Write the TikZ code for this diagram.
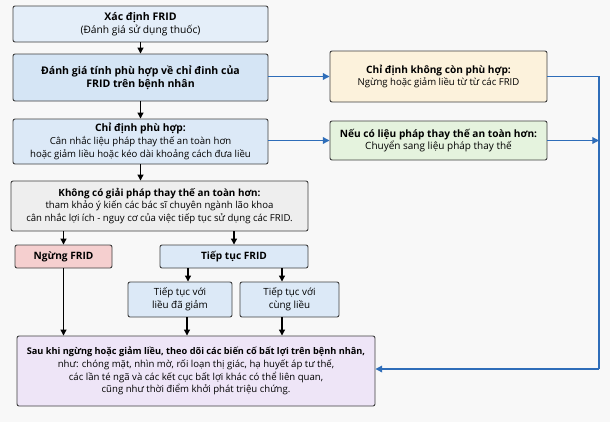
\documentclass[tikz,border=0pt]{standalone}
\usepackage{fontspec}
\setmainfont{Open Sans}
\usetikzlibrary{arrows.meta,calc}
\definecolor{bg}{HTML}{F8F8F8}
\definecolor{bdr}{HTML}{3F3F3F}
\definecolor{cA}{HTML}{E4EEF9}
\definecolor{cB}{HTML}{D5E5F5}
\definecolor{cC}{HTML}{DCE9F7}
\definecolor{cGray}{HTML}{EEEEEE}
\definecolor{cRed}{HTML}{F5CFCF}
\definecolor{cYel}{HTML}{FCF2DC}
\definecolor{cGrn}{HTML}{E5F3DE}
\definecolor{cPur}{HTML}{EEE5F7}
\definecolor{blu}{HTML}{2E6DB9}
\tikzset{
  bx/.style={draw=bdr, line width=0.7pt, rounded corners=1.5pt, align=center, inner sep=0pt, font=\fontsize{7.2}{9.6}\selectfont},
  arr/.style={-{Triangle[length=4.5pt,width=4.5pt]}, line width=0.9pt, black},
  barr/.style={-{Triangle[length=5pt,width=5pt]}, line width=0.9pt, blu},
  bline/.style={line width=0.9pt, blu},
  hd/.style={font=\fontsize{7.6}{9.6}\selectfont\bfseries}
}
\begin{document}
\begin{tikzpicture}[x=0.75pt,y=-0.75pt]
\fill[bg] (0,0) rectangle (610,422);
\useasboundingbox (0,0) rectangle (610,422);
% left column
\node[bx, fill=cA, minimum width=191.25pt, minimum height=27pt] (b1) at (140.5,24)
  {{\fontsize{7.9}{10}\selectfont\bfseries Xác định FRID}\\[0.5pt]{\fontsize{7.7}{10}\selectfont (Đánh giá sử dụng thuốc)}};
\node[bx, fill=cB, minimum width=191.25pt, minimum height=35.25pt] (b2) at (140.5,77.5)
  {{\fontsize{7.9}{12}\selectfont\bfseries Đánh giá tính phù hợp về chỉ đinh của}\\{\fontsize{7.9}{12}\selectfont\bfseries FRID trên bệnh nhân}};
\node[bx, fill=cC, minimum width=191.25pt, minimum height=33.75pt] (b3) at (140.5,141.5)
  {{\fontsize{7.7}{9.6}\selectfont\bfseries Chỉ định phù hợp:}\\Cân nhắc liệu pháp thay thế an toàn hơn\\hoặc giảm liều hoặc kéo dài khoảng cách đưa liều};
\node[bx, fill=cGray, minimum width=222.75pt, minimum height=37.5pt] (b4) at (159.5,206)
  {{\fontsize{7.4}{9.6}\selectfont\bfseries Không có giải pháp thay thế an toàn hơn:}\\tham khảo ý kiến các bác sĩ chuyên ngành lão khoa\\cân nhắc lợi ích - nguy cơ của việc tiếp tục sử dụng các FRID.};
\node[bx, fill=cRed, minimum width=72.75pt, minimum height=17.25pt, hd] (ng) at (63.5,256.5) {Ngừng FRID};
\node[bx, fill=cC, minimum width=111pt, minimum height=17.25pt, hd] (tt) at (234,256.5) {Tiếp tục FRID};
\node[bx, fill=cC, minimum width=78pt, minimum height=26.25pt] (s1) at (180,299.5)
  {{\fontsize{7.4}{12}\selectfont Tiếp tục với}\\{\fontsize{7.4}{12}\selectfont liều đã giảm}};
\node[bx, fill=cC, minimum width=74.25pt, minimum height=26.25pt] (s2) at (289.5,299.5)
  {{\fontsize{7.4}{12}\selectfont Tiếp tục với}\\{\fontsize{7.4}{12}\selectfont cùng liều}};
\node[bx, fill=cPur, minimum width=268.5pt, minimum height=52.5pt] (bot) at (196,371)
  {{\fontsize{6.9}{9.6}\selectfont\bfseries Sau khi ngừng hoặc giảm liều, theo dõi các biến cố bất lợi trên bệnh nhân,}\\như: chóng mặt, nhìn mờ, rối loạn thị giác, hạ huyết áp tư thế,\\các lần té ngã và các kết cục bất lợi khác có thể liên quan,\\cũng như thời điểm khởi phát triệu chứng.};
% right column
\node[bx, fill=cYel, minimum width=162.75pt, minimum height=38.25pt] (ye) at (438.5,76.5)
  {{\fontsize{7.6}{9.6}\selectfont\bfseries Chỉ định không còn phù hợp:}\\Ngừng hoặc giảm liều từ từ các FRID};
\node[bx, fill=cGrn, minimum width=162.75pt, minimum height=29.25pt] (gr) at (438.5,140.5)
  {{\fontsize{7.6}{9.6}\selectfont\bfseries Nếu có liệu pháp thay thế an toàn hơn:}\\{\fontsize{7.5}{9.6}\selectfont Chuyển sang liệu pháp thay thế}};
% coordinates
\coordinate (rtop) at (599,76.5);
\coordinate (rmid) at (599,140.5);
\coordinate (rbot) at (599,369);
\coordinate (xa) at (188,0);
\coordinate (xb) at (282,0);
\coordinate (xc) at (187,0);
% black arrows
\draw[arr] (b1) -- (b2);
\draw[arr] (b2) -- (b3);
\draw[arr] (b3.south) -- (b3.south |- b4.north);
\draw[arr] (b4.south -| ng.north) -- (ng.north);
\draw[arr] (b4.south -| tt.north) -- (tt.north);
\draw[arr] (tt.south -| xa) -- (s1.north -| xa);
\draw[arr] (tt.south -| xb) -- (s2.north -| xb);
\draw[arr] (ng.south) -- (ng.south |- bot.north);
\draw[arr] (s1.south -| xc) -- (bot.north -| xc);
\draw[arr] (s2.south -| xb) -- (bot.north -| xb);
% blue arrows
\draw[barr] (b2.east |- ye.west) -- (ye.west);
\draw[barr] (b3.east |- gr.west) -- (gr.west);
\draw[bline] (ye.east) -- (rtop) -- (rbot);
\draw[barr] (gr.east) -- (rmid);
\draw[barr] (rbot) -- (bot.east |- rbot);
\end{tikzpicture}
\end{document}
